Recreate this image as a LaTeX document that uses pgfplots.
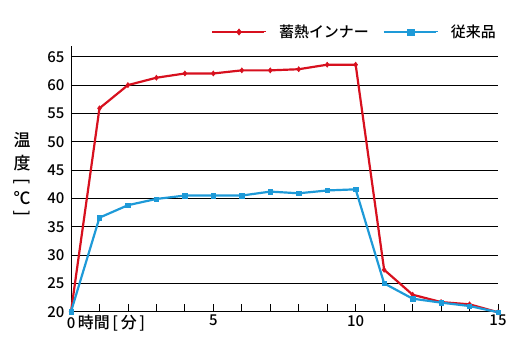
\documentclass[border=0pt]{standalone}
\usepackage{pgfplots}
\pgfplotsset{compat=1.18}
\usepackage{fontspec}
\setmainfont{Noto Sans CJK JP Medium}
\definecolor{cred}{HTML}{D7101E}
\definecolor{cblue}{HTML}{1E9AD8}
\begin{document}
\begin{tikzpicture}
\begin{axis}[
  scale only axis,
  width=427bp, height=265.7bp,
  xmin=0, xmax=15, ymin=20, ymax=66.9,
  axis x line=bottom, axis y line=left,
  axis line style={-, line width=0.8pt},
  xtick={0,5,10,15},
  xticklabels={{\makebox[0.55em][l]{0\,{\fontsize{16}{18}\selectfont 時間\,[\,分\,]}}},5,10,15},
  minor xtick={1,2,3,4,6,7,8,9,11,12,13,14},
  tick align=inside,
  xtick style={line width=0.8pt, black},
  major tick length=8bp, minor tick length=8bp,
  ytick={20,25,...,65},
  ytick style={draw=none},
  ymajorgrids,
  grid style={black, line width=0.7pt},
  tick label style={font=\fontsize{15}{17}\selectfont},
  yticklabel style={xshift=-3bp},
  /pgf/number format/assume math mode=true,
  clip=false,
  legend style={at={(rel axis cs:1,1)}, anchor=east, yshift=14bp, draw=none, fill=none,
    inner sep=0pt, nodes={inner sep=2bp}, font=\fontsize{15}{17}\selectfont, column sep=12bp},
  legend columns=2,
  legend image code/.code={
    \path (0bp,0bp) -- (52bp,0bp);
    \draw[#1, line width=1pt, overlay] (0bp,0bp) -- (54bp,0bp);
    \draw[#1, only marks, mark size=3.2pt, overlay] plot coordinates {(27bp,0bp)};
  },
]
\addplot[cred, line width=2.2pt, mark=diamond*, mark size=2.6pt, mark options={solid, line width=0.5pt}] coordinates {
(0,20) (1,55.9) (2,60) (3,61.3) (4,62.05) (5,62.05) (6,62.6) (7,62.6) (8,62.8) (9,63.6) (10,63.6) (11,27.4) (12,23.0) (13,21.7) (14,21.3) (15,19.9)
};
\addlegendentry{蓄熱インナー}
\addplot[cblue, line width=2.2pt, mark=square*, mark size=2.2pt, mark options={solid, line width=0.5pt}] coordinates {
(0,20) (1,36.6) (2,38.8) (3,39.9) (4,40.5) (5,40.5) (6,40.5) (7,41.2) (8,40.9) (9,41.4) (10,41.6) (11,25.0) (12,22.3) (13,21.6) (14,21.0) (15,19.9)
};
\addlegendentry{従来品}
\coordinate (O) at (axis cs:0,20);
\begin{scope}[font=\fontsize{17}{19}\selectfont, inner sep=0pt]
\node at ([xshift=-49bp]axis cs:0,50.3) {温};
\node at ([xshift=-49bp]axis cs:0,46.2) {度};
\node[rotate=-90] at ([xshift=-49bp]axis cs:0,42.9) {[};
\node at ([xshift=-49bp]axis cs:0,40.1) {℃};
\node[rotate=-90] at ([xshift=-49bp]axis cs:0,37.4) {]};
\end{scope}
\end{axis}
\pgfresetboundingbox
\path (O) ++(-71bp,-45.3bp) rectangle ++(518bp,357bp);
\end{tikzpicture}
\end{document}
